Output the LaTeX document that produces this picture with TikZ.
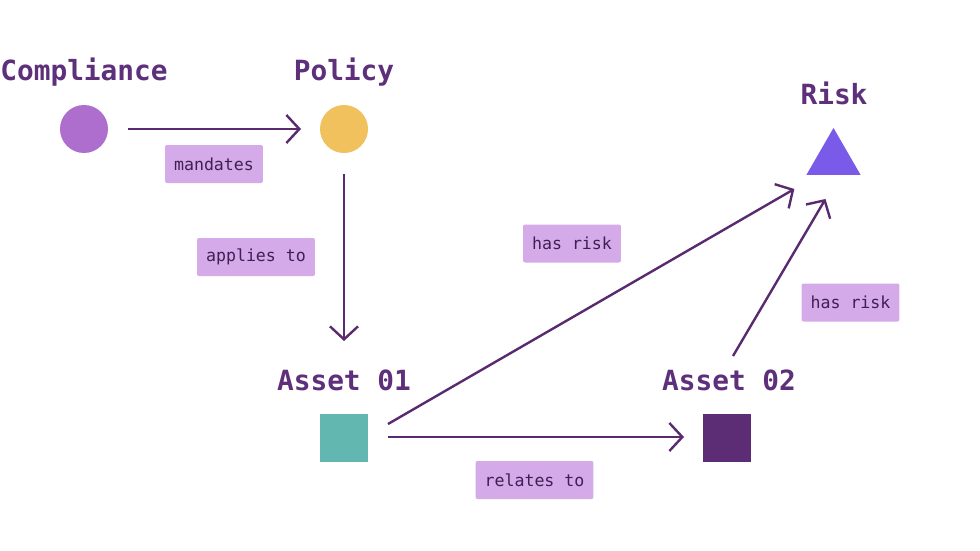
\documentclass[tikz,border=0pt]{standalone}
\usepackage{fontspec}
\newfontfamily\titlefont{DejaVu Sans Mono}[Scale=1.0]
\newfontfamily\labelfont{DejaVu Sans Mono}
\usetikzlibrary{arrows.meta,shapes.geometric,calc}
\definecolor{ink}{HTML}{5A2A70}
\definecolor{titleink}{HTML}{5E2F7A}
\definecolor{labelink}{HTML}{3F2054}
\definecolor{labelbg}{HTML}{D4AAE8}
\definecolor{compc}{HTML}{AD6ECE}
\definecolor{polc}{HTML}{F0C15C}
\definecolor{riskc}{HTML}{7A5AE8}
\definecolor{aonec}{HTML}{62B8B0}
\definecolor{atwoc}{HTML}{5C2D74}
\tikzset{
  titletext/.style={anchor=base, inner sep=0pt, text=titleink, font=\titlefont\bfseries\fontsize{27.8}{30}\selectfont},
  edgelabel/.style={fill=labelbg, rounded corners=2pt, minimum height=38pt, inner xsep=9pt, inner ysep=0pt, text=labelink, font=\labelfont\fontsize{16.6}{18}\selectfont},
  dot/.style={circle, minimum size=48pt, inner sep=0pt, outer sep=0pt},
  sq/.style={rectangle, minimum size=48pt, inner sep=0pt, outer sep=0pt},
  conn/.style={draw=ink, line width=2.4pt, -{Straight Barb[length=13pt,width=28pt,line width=2.4pt]}},
}
\begin{document}
\begin{tikzpicture}[x=1pt,y=-1pt]
\useasboundingbox (0,0) rectangle (980,551);
\fill[white] (0,0) rectangle (980,551);
% shapes
\node[dot, fill=compc] (comp) at (84,129) {};
\node[dot, fill=polc] (pol) at (344,129) {};
\node[regular polygon, regular polygon sides=3, minimum size=62.7pt, inner sep=0pt, outer sep=0pt, fill=riskc] (risk) at (833.5,159.3) {};
\node[sq, fill=aonec] (a1) at (344,438) {};
\node[sq, fill=atwoc] (a2) at (727,438) {};
% titles
\node[titletext] (compt) at (84,81) {Compliance};
\node[titletext] (polt) at (344,81) {Policy};
\node[titletext] (riskt) at (834,104) {Risk};
\node[titletext] (a1t) at (344,390) {Asset 01};
\node[titletext] (a2t) at (729,390) {Asset 02};
% connectors
\draw[conn, shorten <=20pt, shorten >=19pt] (comp.east) -- (pol.west);
\draw[conn, shorten <=21pt, shorten >=73pt] (pol.south) -- (a1.north);
\draw[conn] ($(a1.east)+(20,-1)$) -- ($(a2.west)+(-19,-1)$);
\draw[conn] ($(a1.north east)+(20,10)$) -- ($(risk.corner 2)+(-12,14)$);
\draw[conn] ($(a2.north)+(6,-58)$) -- ($(risk.south)+(-8,24)$);
% edge labels
\node[edgelabel] (lmand) at (214,164) {mandates};
\node[edgelabel] (lapp) at (256,257) {applies to};
\node[edgelabel] (lrisk1) at (572,243.5) {has risk};
\node[edgelabel] (lrisk2) at (850.5,302.5) {has risk};
\node[edgelabel] (lrel) at (534.5,480) {relates to};
\end{tikzpicture}
\end{document}
